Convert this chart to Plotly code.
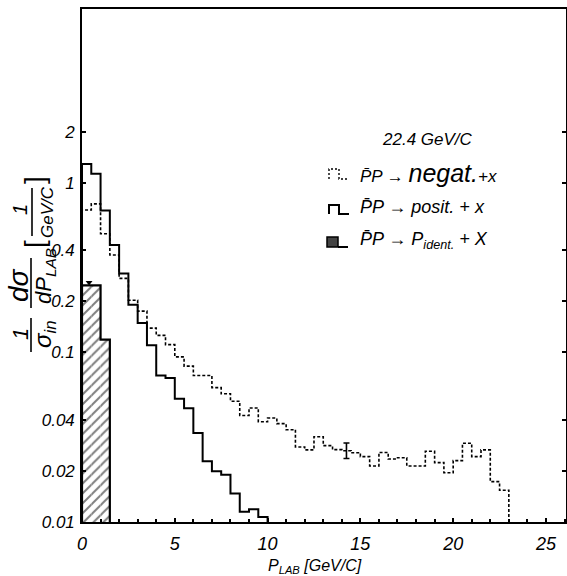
import plotly.graph_objects as go

# ---------------- data ----------------
bin_width = 0.5
# p̄p -> negat. + X  (dotted), bins of 0.5 GeV/c from 0 to 23
negat_vals = [0.69, 0.75, 0.50, 0.375, 0.273, 0.203, 0.175, 0.139, 0.126, 0.111,
              0.094, 0.083, 0.073, 0.073, 0.062, 0.057, 0.0515, 0.0424, 0.047, 0.039,
              0.041, 0.038, 0.035, 0.0277, 0.0266, 0.0318, 0.0282, 0.0267, 0.0263, 0.0256,
              0.0243, 0.0214, 0.0257, 0.0235, 0.0239, 0.0214, 0.0214, 0.0261, 0.0224, 0.0195,
              0.0230, 0.0291, 0.0243, 0.0266, 0.0173, 0.0154]
# p̄p -> posit. + X  (solid), bins of 0.5 GeV/c from 0 to 10
posit_vals = [1.29, 1.13, 0.686, 0.43, 0.292, 0.191, 0.149, 0.110, 0.073, 0.0705,
              0.0532, 0.0468, 0.0335, 0.0228, 0.0199, 0.0190, 0.0147, 0.0115, 0.0119, 0.0107]
# p̄p -> p_ident. + X (hatched)
ident_vals = [0.248, 0.248, 0.119]

# representative error bar on the negat. histogram
err_x = [14.25]
err_y = [0.0263]
err_plus = [0.0029]
err_minus = [0.0026]
# small marker on the hatched histogram
ident_mark_x = [0.38]
ident_mark_y = [0.258]

ytick_vals = [0.01, 0.02, 0.04, 0.1, 0.2, 0.4, 1, 2]
ytick_text = ["0.01", "0.02", "0.04", "0.1", "0.2", "0.4", "1", "2"]
x_range = [0, 26.08]
y_floor = 0.01
y_log_range = [-2, 1.024]

FONT = "Liberation Sans"


def step_xy(vals):
    edges = [i * bin_width for i in range(len(vals) + 1)]
    xs = [edges[0]] + edges + [edges[-1]]
    ys = [y_floor] + list(vals) + [vals[-1], y_floor]
    return xs, ys


fig = go.Figure()

# hatched area
centers = [(i + 0.5) * bin_width for i in range(len(ident_vals))]
fig.add_trace(go.Bar(
    x=centers, y=ident_vals, width=bin_width,
    marker=dict(color="white", line_width=0,
                pattern=dict(shape="/", fgcolor="black", bgcolor="white",
                             size=7, solidity=0.28)),
    showlegend=False, hoverinfo="skip"))
xs, ys = step_xy(ident_vals)
fig.add_trace(go.Scatter(x=xs, y=ys, mode="lines", line_shape="hv",
                         line=dict(color="black", width=2.2), showlegend=False))

# negat (dotted)
xs, ys = step_xy(negat_vals)
fig.add_trace(go.Scatter(x=xs, y=ys, mode="lines", line_shape="hv",
                         line=dict(color="black", width=1.6, dash="3px,2px"),
                         showlegend=False))
# posit (solid)
xs, ys = step_xy(posit_vals)
fig.add_trace(go.Scatter(x=xs, y=ys, mode="lines", line_shape="hv",
                         line=dict(color="black", width=2), showlegend=False))

# error bar
fig.add_trace(go.Scatter(x=err_x, y=err_y, mode="markers",
                         marker=dict(size=1, color="black"),
                         error_y=dict(type="data", symmetric=False, array=err_plus,
                                      arrayminus=err_minus, color="black",
                                      thickness=1.6, width=3),
                         showlegend=False))
fig.add_trace(go.Scatter(x=ident_mark_x, y=ident_mark_y, mode="markers",
                         marker=dict(size=6, color="black", symbol="triangle-down"),
                         showlegend=False))

# ---------------- layout ----------------
PL, PR, PT, PB = 82, 566, 9, 522
W, H = 567, 576


def px(x):
    return (x - PL) / (PR - PL)


def py(y):
    return (PB - y) / (PB - PT)


annotations = []


def ann(text, x, y, size, angle=0, xanchor="center", italic=True):
    annotations.append(dict(
        text=text, x=px(x), y=py(y), xref="paper", yref="paper",
        showarrow=False, textangle=angle, xanchor=xanchor, yanchor="middle",
        font=dict(family=FONT, size=size, color="black",
                  style="italic" if italic else "normal")))


# y axis title pieces (rotated)
ann("1", 20, 334, 22, -90)
ann("σ<sub>in</sub>", 44, 334, 24, -90)
ann("dσ", 18, 285, 28, -90)
ann("dP<sub>LAB</sub>", 45, 276, 22, -90)
ann("[", 34, 244, 28, -90, italic=False)
ann("1", 20, 210, 20, -90)
ann("GeV/C", 47, 212, 17, -90)
ann("]", 34, 180, 28, -90, italic=False)

# x axis title
ann("P<sub>LAB</sub> [GeV/C]", 315, 566, 16)

# legend texts
ann("22.4 GeV/C", 380, 139, 17, xanchor="left")
ann("P\u0304P → <span style='font-size:25px'>negat.</span>+x", 358, 173, 17, xanchor="left")
ann("P\u0304P → posit. + x", 358, 207, 18, xanchor="left")
ann("P\u0304P → P<sub>ident.</sub> + X", 358, 240, 18, xanchor="left")

shapes = []


def line(x0, y0, x1, y1, width=1.6, dash="solid"):
    shapes.append(dict(type="line", xref="paper", yref="paper",
                       x0=px(x0), y0=py(y0), x1=px(x1), y1=py(y1),
                       line=dict(color="black", width=width, dash=dash)))


# fraction bars of the y title
line(31, 318, 31, 352)
line(31, 258, 31, 308)
line(32, 188, 32, 236)


# legend glyphs
def glyph(y_bot, y_top, dash, width):
    pts = [(329, y_bot), (329, y_top), (339, y_top), (339, y_bot), (349, y_bot)]
    path = "M " + " L ".join(f"{px(a):.5f},{py(b):.5f}" for a, b in pts)
    shapes.append(dict(type="path", xref="paper", yref="paper", path=path,
                       line=dict(color="black", width=width, dash=dash)))


glyph(179, 169, "2px,2px", 1.4)
glyph(214, 205, "solid", 2)
shapes.append(dict(type="rect", xref="paper", yref="paper",
                   x0=px(327), x1=px(338), y0=py(247), y1=py(237),
                   fillcolor="#444", line=dict(color="black", width=1.5)))
line(338, 247, 348, 247, width=2)

fig.update_layout(
    width=W, height=H,
    margin=dict(l=PL, r=W - PR, t=PT, b=H - PB, autoexpand=False),
    paper_bgcolor="white", plot_bgcolor="white",
    showlegend=False, barmode="overlay",
    annotations=annotations, shapes=shapes,
    xaxis=dict(range=x_range, tickmode="linear", tick0=0, dtick=5,
               ticks="inside", ticklen=4, tickwidth=1.5, tickcolor="black",
               minor=dict(dtick=1, ticks="inside", ticklen=3, tickwidth=1.5,
                          tickcolor="black", showgrid=False),
               showline=True, linecolor="black", linewidth=2, mirror=True,
               showgrid=False, zeroline=False, automargin=False,
               ticklabelstandoff=4,
               tickfont=dict(family=FONT, size=18, color="black", style="italic")),
    yaxis=dict(type="log", range=y_log_range, tickmode="array",
               tickvals=ytick_vals, ticktext=ytick_text,
               ticks="inside", ticklen=4, tickwidth=1.5, tickcolor="black",
               showline=True, linecolor="black", linewidth=1.6, mirror="ticks",
               showgrid=False, zeroline=False, automargin=False,
               ticklabelstandoff=2,
               tickfont=dict(family=FONT, size=17, color="black", style="italic")),
)

fig.write_html("out.html",
               config={"displayModeBar": False},
               post_script="document.body.style.margin='0px';"
                           "document.body.style.overflow='hidden';")
